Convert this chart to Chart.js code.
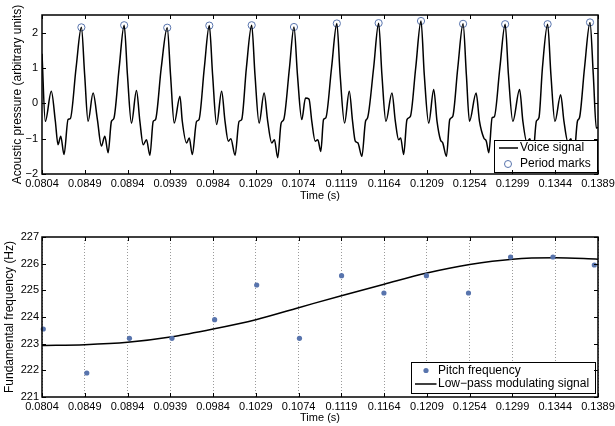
<!DOCTYPE html>
<html>
<head>
<meta charset="utf-8">
<script src="https://cdn.jsdelivr.net/npm/chart.js@4/dist/chart.umd.min.js"></script>
<style>
  body { margin: 0; background: #fff; }
  canvas { display: block; }
</style>
</head>
<body>
<canvas id="voiceChart" width="615" height="213"></canvas>
<canvas id="pitchChart" width="615" height="213"></canvas>
<script>
// shared time axis (s)
const timeTicks = [0.0804, 0.0849, 0.0894, 0.0939, 0.0984, 0.1029, 0.1074, 0.1119, 0.1164, 0.1209, 0.1254, 0.1299, 0.1344, 0.1389];
const pressureTicks = [-2, -1, 0, 1, 2];
const freqTicks = [221, 222, 223, 224, 225, 226, 227];

// voice signal
const voiceTime = [
  0.080400, 0.080748, 0.081380, 0.081802, 0.082087, 0.082371, 0.082719, 0.083141, 0.083383, 0.083984,
  0.084543, 0.084890, 0.085249, 0.085776, 0.086229, 0.086651, 0.087009, 0.087357, 0.087705, 0.087958, 0.088517,
  0.089044, 0.089391, 0.089813, 0.090340, 0.090699, 0.091046, 0.091394, 0.091753, 0.092101, 0.092343, 0.092944,
  0.093576, 0.093924, 0.094314, 0.094915, 0.095157, 0.095611, 0.095895, 0.096212, 0.096665, 0.096918, 0.097476,
  0.098003, 0.098351, 0.098773, 0.099300, 0.099658, 0.100006, 0.100270, 0.100713, 0.101134, 0.101408, 0.101904,
  0.102462, 0.102810, 0.103242, 0.103769, 0.104149, 0.104571, 0.104855, 0.105203, 0.105561, 0.105835, 0.106436,
  0.106911, 0.107280, 0.107733, 0.108123, 0.108492, 0.108787, 0.109145, 0.109419, 0.109736, 0.110020, 0.110263, 0.110864,
  0.111422, 0.111770, 0.112234, 0.112729, 0.113077, 0.113362, 0.113636, 0.114057, 0.114447, 0.114658, 0.115291,
  0.115818, 0.116166, 0.116587, 0.117220, 0.117578, 0.117926, 0.118137, 0.118453, 0.118801, 0.119159, 0.119718,
  0.120277, 0.120624, 0.121088, 0.121615, 0.121963, 0.122322, 0.122564, 0.122954, 0.123302, 0.123618, 0.124145,
  0.124704, 0.125052, 0.125378, 0.126074, 0.126433, 0.126886, 0.127149, 0.127413, 0.127761, 0.127993, 0.128572,
  0.129131, 0.129479, 0.129943, 0.130649, 0.130997, 0.131418, 0.131735, 0.132051, 0.132420, 0.132683, 0.133052,
  0.133600, 0.133948, 0.134370, 0.134971, 0.135319, 0.135740, 0.136056, 0.136373, 0.136742, 0.136952, 0.137480,
  0.138059, 0.138407, 0.138724, 0.138900
];
const voiceValue = [
  1.4, -0.51, 0.34, -0.5, -1.17, -0.93, -1.45, -0.46, -0.43, 1.0,
  2.15, 0.8, -0.51, 0.29, -0.46, -1.21, -0.93, -1.40, -0.51, -0.43, 1.0,
  2.21, 0.8, -0.56, 0.36, -0.51, -1.17, -1.03, -1.47, -0.51, -0.46, 1.0,
  2.14, 0.8, -0.56, 0.2, -0.5, -1.12, -0.98, -1.45, -0.51, -0.46, 1.0,
  2.20, 0.8, -0.6, 0.34, -0.51, -1.07, -1.0, -1.47, -0.51, -0.46, 1.0,
  2.21, 0.8, -0.56, 0.29, -0.51, -1.12, -1.03, -1.54, -0.56, -0.46, 1.0,
  2.16, 0.8, -0.46, 0.15, 0.12, -0.51, -1.07, -1.03, -1.36, -0.46, -0.41, 1.0,
  2.26, 0.8, -0.56, 0.34, -0.51, -1.07, -1.12, -1.5, -0.5, -0.41, 1.0,
  2.27, 0.8, -0.51, 0.29, -0.51, -1.03, -0.98, -1.45, -0.46, -0.37, 1.0,
  2.33, 0.8, -0.56, 0.39, -0.51, -1.03, -1.12, -1.5, -0.46, -0.37, 1.0,
  2.25, 0.8, -0.51, 0.29, -0.51, -0.98, -1.07, -1.4, -0.41, -0.38, 1.0,
  2.24, 0.8, -0.51, 0.39, -0.51, -1.1, -1.0, -1.45, -0.5, -0.41, 1.0,
  2.24, 0.8, -0.51, 0.24, -0.51, -1.1, -1.0, -1.45, -0.5, -0.41, 1.0,
  2.29, 0.8, -0.7, -0.68
];

// period marks (peaks)
const markTime = [0.084543, 0.089044, 0.093576, 0.098003, 0.102462, 0.106911, 0.111422, 0.115818, 0.120277, 0.124704, 0.129131, 0.133600, 0.138059];
const markValue = [2.15, 2.21, 2.14, 2.20, 2.21, 2.16, 2.26, 2.27, 2.33, 2.25, 2.24, 2.24, 2.29];

// pitch estimates (Hz)
const pitchTime = [0.080537, 0.085112, 0.089602, 0.094072, 0.098562, 0.102989, 0.107490, 0.111918, 0.116376, 0.120846, 0.125273, 0.129700, 0.134159, 0.138513];
const pitchValue = [223.55, 221.9, 223.2, 223.2, 223.9, 225.2, 223.2, 225.55, 224.9, 225.55, 224.9, 226.25, 226.25, 225.95];

// low-pass modulating signal (Hz)
const lowpassTime = timeTicks;
const lowpassValue = [222.93, 222.96, 223.05, 223.25, 223.55, 223.9, 224.35, 224.8, 225.23, 225.65, 225.97, 226.17, 226.22, 226.17];

const blue = '#5874ad';
Chart.defaults.font.family = '"Liberation Sans", Arial, Helvetica, sans-serif';
Chart.defaults.color = '#000';

const toXY = (xs, ys) => xs.map((x, i) => ({ x, y: ys[i] }));
const minus = v => (v < 0 ? '\u2212' + Math.abs(v) : String(v));

// box round the plot with inward ticks on all sides
const framePlugin = {
  id: 'frame',
  afterDraw(chart) {
    const { ctx, chartArea: a, scales: { x, y } } = chart;
    ctx.save();
    ctx.strokeStyle = '#000';
    ctx.lineWidth = 1;
    ctx.beginPath();
    x.ticks.forEach(t => {
      const px = Math.round(x.getPixelForValue(t.value)) + 0.5;
      ctx.moveTo(px, a.bottom); ctx.lineTo(px, a.bottom - 4);
      ctx.moveTo(px, a.top); ctx.lineTo(px, a.top + 4);
    });
    y.ticks.forEach(t => {
      const py = Math.round(y.getPixelForValue(t.value)) + 0.5;
      ctx.moveTo(a.left, py); ctx.lineTo(a.left + 4, py);
      ctx.moveTo(a.right, py); ctx.lineTo(a.right - 4, py);
    });
    ctx.stroke();
    ctx.lineWidth = 1.5;
    ctx.strokeRect(a.left, a.top, a.right - a.left, a.bottom - a.top);
    ctx.restore();
  }
};

// legend boxed inside the lower right corner
const boxLegend = {
  id: 'boxLegend',
  afterDatasetsDraw(chart, args, opts) {
    const { ctx, chartArea: a } = chart;
    const bx = a.right - opts.right - opts.w;
    const by = a.bottom - opts.bottom - opts.h;
    ctx.save();
    ctx.fillStyle = '#fff';
    ctx.fillRect(bx, by, opts.w, opts.h);
    ctx.strokeStyle = '#000';
    ctx.lineWidth = 1;
    ctx.strokeRect(bx + 0.5, by + 0.5, opts.w, opts.h);
    ctx.font = '12px "Liberation Sans", Arial, sans-serif';
    ctx.textBaseline = 'middle';
    opts.items.forEach(it => {
      const cy = by + it.dy;
      if (it.kind === 'line') {
        ctx.strokeStyle = '#000';
        ctx.lineWidth = 1.5;
        ctx.beginPath();
        ctx.moveTo(bx + it.x0, cy); ctx.lineTo(bx + it.x1, cy);
        ctx.stroke();
      } else {
        ctx.beginPath();
        ctx.arc(bx + it.cx, cy, it.r, 0, Math.PI * 2);
        if (it.kind === 'dot') { ctx.fillStyle = blue; ctx.fill(); }
        else { ctx.strokeStyle = blue; ctx.lineWidth = 1; ctx.stroke(); }
      }
      ctx.fillStyle = '#000';
      ctx.fillText(it.text, bx + opts.textX, cy);
    });
    ctx.restore();
  }
};

function timeAxis(height, labelPad, titlePad, grid) {
  return {
    type: 'linear',
    min: 0.0804,
    max: 0.1389,
    afterBuildTicks: s => { s.ticks = timeTicks.map(v => ({ value: v })); },
    afterFit: s => { s.height = height; s.paddingLeft = 0; s.paddingRight = 0; },
    ticks: { padding: labelPad, font: { size: 11 }, maxRotation: 0, autoSkip: false, callback: v => v.toFixed(4) },
    grid: grid ? { display: true, color: '#9a9a9a', lineWidth: 1, drawTicks: false } : { display: false, drawTicks: false },
    border: { display: false, dash: [1, 2] },
    title: { display: true, text: 'Time (s)', font: { size: 11 }, padding: { top: 0, bottom: titlePad } }
  };
}

new Chart(document.getElementById('voiceChart'), {
  type: 'line',
  data: {
    datasets: [{
      label: 'Voice signal',
      data: toXY(voiceTime, voiceValue),
      borderColor: '#000',
      borderWidth: 1.5,
      pointRadius: 0,
      cubicInterpolationMode: 'monotone',
      fill: false
    }, {
      label: 'Period marks',
      data: toXY(markTime, markValue),
      showLine: false,
      pointRadius: 3.6,
      pointBorderWidth: 1,
      pointBorderColor: blue,
      pointBackgroundColor: 'rgba(0,0,0,0)',
      clip: false
    }]
  },
  options: {
    responsive: false,
    animation: false,
    devicePixelRatio: 1,
    layout: { padding: { top: 15, right: 17, left: 0, bottom: 0 } },
    plugins: {
      legend: { display: false },
      tooltip: { enabled: false },
      boxLegend: {
        w: 103, h: 32, right: 1, bottom: 2, textX: 26,
        items: [
          { kind: 'line', x0: 5, x1: 24, dy: 8, text: 'Voice signal' },
          { kind: 'circle', cx: 14, r: 3.5, dy: 24, text: 'Period marks' }
        ]
      }
    },
    scales: {
      x: timeAxis(39, 3, 10.5, false),
      y: {
        type: 'linear',
        min: -2,
        max: 2.5,
        afterBuildTicks: s => { s.ticks = pressureTicks.map(v => ({ value: v })); },
        afterFit: s => { s.width = 42; s.paddingTop = 0; s.paddingBottom = 0; },
        ticks: { padding: 4, font: { size: 11 }, callback: minus },
        grid: { display: false, drawTicks: false },
        border: { display: false },
        title: { display: true, text: 'Acoustic pressure (arbitrary units)', font: { size: 12 }, padding: { top: 10.5, bottom: 0 } }
      }
    }
  },
  plugins: [framePlugin, boxLegend]
});

new Chart(document.getElementById('pitchChart'), {
  type: 'line',
  data: {
    datasets: [{
      label: 'Pitch frequency',
      data: toXY(pitchTime, pitchValue),
      showLine: false,
      pointRadius: 2.6,
      pointBorderWidth: 0,
      pointBackgroundColor: blue,
      clip: false
    }, {
      label: 'Low-pass modulating signal',
      data: toXY(lowpassTime, lowpassValue),
      borderColor: '#000',
      borderWidth: 1.5,
      pointRadius: 0,
      cubicInterpolationMode: 'monotone',
      fill: false
    }]
  },
  options: {
    responsive: false,
    animation: false,
    devicePixelRatio: 1,
    layout: { padding: { top: 24, right: 17, left: 0, bottom: 0 } },
    plugins: {
      legend: { display: false },
      tooltip: { enabled: false },
      boxLegend: {
        w: 184, h: 31, right: 3, bottom: 4, textX: 27,
        items: [
          { kind: 'dot', cx: 15, r: 2.6, dy: 8.5, text: 'Pitch frequency' },
          { kind: 'line', x0: 4, x1: 25.5, dy: 22, text: 'Low\u2212pass modulating signal' }
        ]
      }
    },
    scales: {
      x: timeAxis(29, 3, 1.5, true),
      y: {
        type: 'linear',
        min: 221,
        max: 227,
        afterBuildTicks: s => { s.ticks = freqTicks.map(v => ({ value: v })); },
        afterFit: s => { s.width = 42; s.paddingTop = 0; s.paddingBottom = 0; },
        ticks: { padding: 3, font: { size: 11 } },
        grid: { display: false, drawTicks: false },
        border: { display: false },
        title: { display: true, text: 'Fundamental frequency (Hz)', font: { size: 12 }, padding: { top: 2, bottom: 0 } }
      }
    }
  },
  plugins: [framePlugin, boxLegend]
});
</script>
</body>
</html>
